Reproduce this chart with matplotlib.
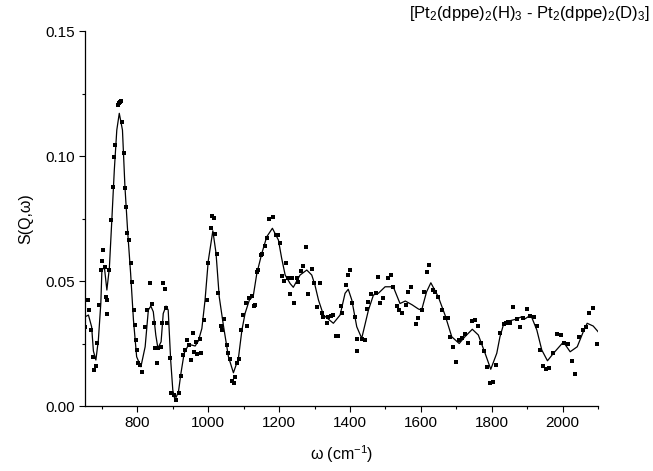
import matplotlib
matplotlib.use("Agg")
import matplotlib.pyplot as plt
from matplotlib.ticker import MultipleLocator, FormatStrFormatter

plt.rcParams['font.family'] = ['Liberation Sans', 'DejaVu Sans']
plt.rcParams['mathtext.fontset'] = 'custom'
plt.rcParams['mathtext.rm'] = 'Liberation Sans'
plt.rcParams['mathtext.it'] = 'Liberation Sans:italic'

# fitted curve
fit_w = [650, 657, 662, 671, 676, 683, 690, 697, 700, 707, 714, 721, 728, 735,
         742, 749, 758, 765, 773, 781, 789, 798, 810, 822, 831, 838, 845, 852,
         858, 867, 873, 881, 887, 894, 900, 906, 916, 923, 932, 944, 953, 963,
         972, 982, 991, 1000, 1013, 1022, 1031, 1043, 1057, 1071, 1085, 1095,
         1104, 1116, 1127, 1137, 1151, 1165, 1181, 1198, 1207, 1217, 1231, 1240,
         1259, 1278, 1292, 1301, 1311, 1325, 1353, 1372, 1386, 1395, 1405, 1419,
         1433, 1452, 1466, 1480, 1499, 1522, 1541, 1556, 1575, 1593, 1602, 1616,
         1628, 1649, 1668, 1687, 1708, 1724, 1745, 1762, 1781, 1797, 1814, 1823,
         1834, 1851, 1870, 1884, 1894, 1910, 1927, 1941, 1957, 1974, 2002, 2021,
         2041, 2058, 2069, 2086, 2100]
fit_s = [0.0356, 0.0360, 0.0364, 0.0317, 0.0220, 0.0184, 0.0264, 0.0412, 0.0544,
         0.0555, 0.0464, 0.0551, 0.0744, 0.0944, 0.1104, 0.1171, 0.1104, 0.0877,
         0.0691, 0.0531, 0.0344, 0.0197, 0.0157, 0.0237, 0.0384, 0.0400, 0.0377,
         0.0284, 0.0231, 0.0257, 0.0370, 0.0400, 0.0384, 0.0184, 0.0064, 0.0024,
         0.0057, 0.0131, 0.0211, 0.0244, 0.0244, 0.0240, 0.0260, 0.0310, 0.0424,
         0.0580, 0.0701, 0.0611, 0.0437, 0.0320, 0.0197, 0.0133, 0.0190, 0.0304,
         0.0371, 0.0424, 0.0440, 0.0530, 0.0610, 0.0677, 0.0711, 0.0664, 0.0592,
         0.0524, 0.0490, 0.0475, 0.0524, 0.0544, 0.0524, 0.0484, 0.0424, 0.0364,
         0.0331, 0.0364, 0.0451, 0.0467, 0.0424, 0.0317, 0.0271, 0.0384, 0.0444,
         0.0451, 0.0477, 0.0477, 0.0410, 0.0420, 0.0405, 0.0388, 0.0384, 0.0457,
         0.0493, 0.0437, 0.0364, 0.0277, 0.0250, 0.0277, 0.0307, 0.0284, 0.0211,
         0.0147, 0.0211, 0.0277, 0.0331, 0.0341, 0.0348, 0.0357, 0.0349, 0.0364,
         0.0304, 0.0224, 0.0181, 0.0211, 0.0256, 0.0217, 0.0237, 0.0297, 0.0331,
         0.0320, 0.0297]

# measured points
pts_w = [652, 659, 662, 665, 670, 676, 678, 683, 687, 691, 697, 701, 703, 708,
         711, 714, 715, 720, 725, 730, 734, 737, 745, 748, 751, 753, 758, 762,
         764, 769, 772, 777, 781, 786, 791, 793, 797, 800, 803, 808, 814, 822,
         828, 836, 841, 847, 850, 856, 858, 866, 869, 873, 878, 880, 885, 892,
         896, 904, 908, 918, 922, 928, 934, 941, 946, 951, 956, 961, 966, 969,
         977, 979, 989, 996, 1000, 1007, 1012, 1016, 1019, 1026, 1028, 1035,
         1040, 1045, 1052, 1057, 1061, 1066, 1072, 1076, 1082, 1088, 1093, 1099,
         1106, 1110, 1116, 1123, 1128, 1132, 1137, 1141, 1149, 1153, 1160, 1165,
         1172, 1184, 1190, 1196, 1202, 1207, 1213, 1219, 1226, 1231, 1237, 1243,
         1250, 1254, 1261, 1268, 1276, 1281, 1294, 1299, 1308, 1315, 1320, 1325,
         1334, 1339, 1346, 1353, 1360, 1365, 1374, 1378, 1388, 1394, 1400, 1405,
         1414, 1419, 1421, 1433, 1442, 1447, 1452, 1459, 1472, 1480, 1485, 1494,
         1508, 1516, 1522, 1532, 1539, 1548, 1557, 1563, 1571, 1585, 1593, 1602,
         1610, 1618, 1624, 1633, 1640, 1649, 1659, 1668, 1675, 1682, 1691, 1699,
         1708, 1716, 1724, 1734, 1743, 1753, 1760, 1769, 1778, 1787, 1795, 1804,
         1812, 1823, 1833, 1840, 1847, 1851, 1861, 1870, 1880, 1889, 1899, 1908,
         1919, 1927, 1936, 1945, 1953, 1962, 1974, 1985, 1995, 2005, 2016, 2025,
         2035, 2045, 2056, 2066, 2075, 2086, 2098]
pts_s = [0.0317, 0.0424, 0.0424, 0.0384, 0.0304, 0.0197, 0.0144, 0.0160, 0.0251,
         0.0404, 0.0544, 0.0581, 0.0624, 0.0557, 0.0437, 0.0368, 0.0424, 0.0544,
         0.0744, 0.0877, 0.0997, 0.1044, 0.1204, 0.1212, 0.1216, 0.1220, 0.1137,
         0.1011, 0.0871, 0.0797, 0.0691, 0.0664, 0.0571, 0.0497, 0.0384, 0.0324,
         0.0264, 0.0224, 0.0171, 0.0164, 0.0137, 0.0317, 0.0384, 0.0491, 0.0407,
         0.0331, 0.0231, 0.0171, 0.0231, 0.0237, 0.0331, 0.0491, 0.0468, 0.0391,
         0.0331, 0.0191, 0.0051, 0.0044, 0.0024, 0.0051, 0.0120, 0.0204, 0.0224,
         0.0264, 0.0244, 0.0184, 0.0291, 0.0217, 0.0257, 0.0208, 0.0268, 0.0211,
         0.0344, 0.0424, 0.0571, 0.0713, 0.0760, 0.0751, 0.0688, 0.0607, 0.0451,
         0.0321, 0.0304, 0.0347, 0.0244, 0.0213, 0.0188, 0.0101, 0.0093, 0.0117,
         0.0171, 0.0187, 0.0304, 0.0364, 0.0411, 0.0320, 0.0431, 0.0440, 0.0401,
         0.0404, 0.0535, 0.0544, 0.0604, 0.0607, 0.0640, 0.0671, 0.0747, 0.0757,
         0.0684, 0.0684, 0.0651, 0.0520, 0.0501, 0.0571, 0.0511, 0.0448, 0.0511,
         0.0413, 0.0511, 0.0497, 0.0540, 0.0560, 0.0637, 0.0448, 0.0547, 0.0491,
         0.0397, 0.0493, 0.0373, 0.0357, 0.0333, 0.0357, 0.0360, 0.0364, 0.0281,
         0.0280, 0.0400, 0.0373, 0.0484, 0.0524, 0.0544, 0.0411, 0.0357, 0.0270,
         0.0220, 0.0268, 0.0266, 0.0387, 0.0417, 0.0448, 0.0453, 0.0515, 0.0413,
         0.0431, 0.0513, 0.0524, 0.0477, 0.0400, 0.0384, 0.0371, 0.0404, 0.0457,
         0.0477, 0.0327, 0.0351, 0.0384, 0.0457, 0.0537, 0.0564, 0.0464, 0.0457,
         0.0437, 0.0384, 0.0353, 0.0353, 0.0277, 0.0237, 0.0176, 0.0265, 0.0273,
         0.0288, 0.0251, 0.0341, 0.0344, 0.0320, 0.0251, 0.0221, 0.0157, 0.0091,
         0.0097, 0.0164, 0.0291, 0.0328, 0.0331, 0.0337, 0.0333, 0.0395, 0.0347,
         0.0315, 0.0351, 0.0388, 0.0360, 0.0357, 0.0320, 0.0224, 0.0160, 0.0147,
         0.0153, 0.0211, 0.0288, 0.0284, 0.0253, 0.0247, 0.0180, 0.0128, 0.0275,
         0.0304, 0.0317, 0.0371, 0.0393, 0.0247]

fig = plt.figure(figsize=(6.53, 4.71), dpi=100)
ax = fig.add_axes([0.130, 0.138, 0.786, 0.796])

ax.plot(fit_w, fit_s, color='black', lw=0.9)
ax.plot(pts_w, pts_s, 's', color='black', ms=2.3, mew=0)

ax.set_xlim(652, 2100)
ax.set_ylim(0, 0.15)
ax.xaxis.set_major_locator(MultipleLocator(200))
ax.xaxis.set_minor_locator(MultipleLocator(100))
ax.yaxis.set_major_locator(MultipleLocator(0.05))
ax.yaxis.set_minor_locator(MultipleLocator(0.025))
ax.yaxis.set_major_formatter(FormatStrFormatter('%.2f'))
ax.tick_params(which='major', direction='out', length=4, width=0.8, labelsize=11, pad=3)
ax.tick_params(which='minor', direction='out', length=2.5, width=0.8)
for s in ['top', 'right']:
    ax.spines[s].set_visible(False)
ax.spines['left'].set_linewidth(0.9)
ax.spines['bottom'].set_linewidth(0.9)

ax.set_xlabel(r'ω (cm$^{-1}$)', fontsize=11.5, labelpad=10)
ax.set_ylabel('S(Q,ω)', fontsize=11.5, labelpad=9)
fig.text(0.995, 0.972, r'[Pt$_2$(dppe)$_2$(H)$_3$ - Pt$_2$(dppe)$_2$(D)$_3$]',
         ha='right', va='center', fontsize=12)

fig.savefig('out.png', dpi=100)
